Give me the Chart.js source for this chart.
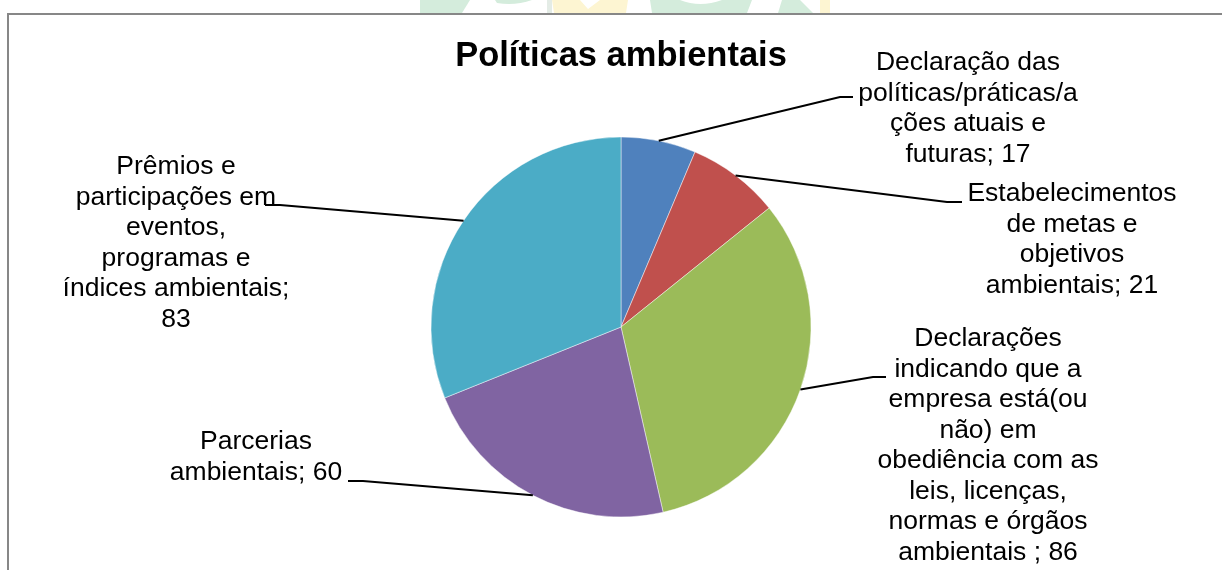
<!DOCTYPE html>
<html>
<head>
<meta charset="utf-8">
<title>Políticas ambientais</title>
<script src="https://cdn.jsdelivr.net/npm/chart.js@4.4.1/dist/chart.umd.min.js"></script>
<style>
    html, body { margin: 0; padding: 0; background: #fff; overflow: hidden; }
    canvas { display: block; }
</style>
</head>
<body>
<canvas id="pieChart" width="1222" height="570"></canvas>
<script>
// dados do gráfico
const chartTitle = 'Políticas ambientais';
const categories = [
    'Declaração das políticas/práticas/ações atuais e futuras',
    'Estabelecimentos de metas e objetivos ambientais',
    'Declarações indicando que a empresa está(ou não) em obediência com as leis, licenças, normas e órgãos ambientais',
    'Parcerias ambientais',
    'Prêmios e participações em eventos, programas e índices ambientais'
];
const values = [17, 21, 86, 60, 83];
// texto dos rótulos, quebrado como na figura
const labelLines = [
    ['Declaração das', 'políticas/práticas/a', 'ções atuais e', 'futuras; 17'],
    ['Estabelecimentos', 'de metas e', 'objetivos', 'ambientais; 21'],
    ['Declarações', 'indicando que a', 'empresa está(ou', 'não) em', 'obediência com as', 'leis, licenças,', 'normas e órgãos', 'ambientais ; 86'],
    ['Parcerias', 'ambientais; 60'],
    ['Prêmios e', 'participações em', 'eventos,', 'programas e', 'índices ambientais;', '83']
];

// estilos e posições (layout)
const sliceColors = ['#4F81BD', '#C0504D', '#9BBB59', '#8064A2', '#4BACC6'];
const labelPos = [
    { x: 968, y: 63 },
    { x: 1072, y: 194 },
    { x: 988, y: 339 },
    { x: 256, y: 442 },
    { x: 176, y: 167 }
];
// cotovelo e ponta das linhas de chamada
const leaderPts = [
    { ex: 840, ey: 97, tx: 853, ty: 97 },
    { ex: 947, ey: 202, tx: 962, ty: 202 },
    { ex: 873, ey: 377, tx: 886, ty: 377 },
    { ex: 363, ey: 481, tx: 348, ty: 481 },
    { ex: 280, ey: 205, tx: 265, ty: 205 }
];
const LINE_H = 30.5;

// marca d'água (logo da página) cortada no topo
function drawWatermark(ctx) {
    ctx.save();
    ctx.beginPath();
    ctx.rect(0, 0, 1222, 13);
    ctx.clip();
    const green = '#d4ecdc';
    const yellow = '#fdf5d2';
    ctx.fillStyle = green;
    ctx.beginPath();
    ctx.moveTo(420, 0); ctx.lineTo(470, 0); ctx.lineTo(462, 13); ctx.lineTo(420, 13); ctx.fill();
    ctx.beginPath();
    ctx.moveTo(495, 0); ctx.lineTo(532, 0); ctx.quadraticCurveTo(515, 6, 497, 3); ctx.fill();
    ctx.fillStyle = '#e4ece6';
    ctx.fillRect(547, 0, 5, 13);
    ctx.fillStyle = yellow;
    ctx.beginPath();
    ctx.moveTo(552, 0); ctx.lineTo(580, 0); ctx.lineTo(588, 9); ctx.lineTo(600, 0);
    ctx.lineTo(628, 0); ctx.lineTo(626, 13); ctx.lineTo(554, 13); ctx.fill();
    ctx.fillStyle = green;
    ctx.beginPath();
    ctx.moveTo(650, 0); ctx.lineTo(680, 0); ctx.quadraticCurveTo(700, 8, 722, 0);
    ctx.lineTo(752, 0); ctx.lineTo(747, 13); ctx.lineTo(652, 13); ctx.fill();
    ctx.beginPath();
    ctx.moveTo(782, 0); ctx.lineTo(800, 0); ctx.lineTo(813, 13); ctx.lineTo(778, 13); ctx.fill();
    ctx.fillStyle = yellow;
    ctx.fillRect(820, 0, 10, 13);
    ctx.restore();
}

const labelPlugin = {
    id: 'labelPlugin',
    beforeDraw(chart) {
        const ctx = chart.ctx;
        drawWatermark(ctx);
        ctx.save();
        ctx.strokeStyle = '#878787';
        ctx.lineWidth = 2;
        ctx.strokeRect(8, 14, 1400, 800);
        ctx.restore();
    },
    afterDraw(chart) {
        const ctx = chart.ctx;
        const arcs = chart.getDatasetMeta(0).data;
        ctx.save();

        // título
        ctx.fillStyle = '#000';
        ctx.font = 'bold 34.5px "Liberation Sans", Arial, sans-serif';
        ctx.textAlign = 'center';
        ctx.textBaseline = 'middle';
        ctx.fillText(chartTitle, 621, 56);

        // linhas de chamada
        ctx.strokeStyle = '#000';
        ctx.lineWidth = 2;
        arcs.forEach((arc, i) => {
            const p = arc.getProps(['x', 'y', 'startAngle', 'endAngle', 'outerRadius'], true);
            const mid = (p.startAngle + p.endAngle) / 2;
            const sx = p.x + Math.cos(mid) * p.outerRadius;
            const sy = p.y + Math.sin(mid) * p.outerRadius;
            const lp = leaderPts[i];
            ctx.beginPath();
            ctx.moveTo(sx, sy);
            ctx.lineTo(lp.ex, lp.ey);
            ctx.lineTo(lp.tx, lp.ty);
            ctx.stroke();
        });

        // rótulos
        ctx.font = '26.5px "Liberation Sans", Arial, sans-serif';
        ctx.textAlign = 'center';
        ctx.textBaseline = 'middle';
        labelLines.forEach((lines, i) => {
            lines.forEach((line, j) => {
                ctx.fillText(line, labelPos[i].x, labelPos[i].y + j * LINE_H);
            });
        });
        ctx.restore();
    }
};

const ctxPie = document.getElementById('pieChart').getContext('2d');
new Chart(ctxPie, {
    type: 'pie',
    data: {
        labels: categories,
        datasets: [{
            data: values,
            backgroundColor: sliceColors,
            borderColor: 'rgba(255,255,255,0.45)',
            borderWidth: 1
        }]
    },
    options: {
        responsive: false,
        animation: false,
        radius: 190,
        layout: {
            padding: { left: 431, right: 411, top: 137, bottom: 53 }
        },
        plugins: {
            legend: { display: false },
            tooltip: { enabled: false },
            title: { display: false }
        }
    },
    plugins: [labelPlugin]
});
</script>
</body>
</html>
